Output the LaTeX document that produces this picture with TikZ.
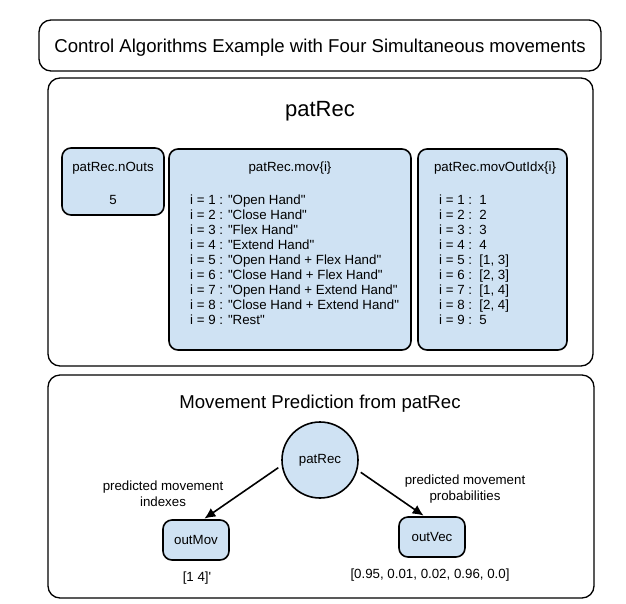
\documentclass[tikz,border=0pt]{standalone}
\usepackage{fontspec}
\setmainfont{Liberation Sans}
\usetikzlibrary{arrows.meta}
\definecolor{blue9}{HTML}{CFE2F3}
\tikzset{
  panel/.style={draw, line width=1.3pt, rounded corners=12pt},
  cell/.style={draw, line width=1.6pt, rounded corners=9pt, fill=blue9},
  smalltext/.style={font=\fontsize{13.3}{16}\selectfont, inner sep=0pt},
  bigtext/.style={font=\fontsize{18.6}{22}\selectfont, inner sep=0pt},
  flow/.style={line width=1.6pt, -{Latex[length=11pt,width=10pt]}, shorten <=4pt, shorten >=1pt}
}

\begin{document}
\begin{tikzpicture}[x=1pt,y=-1pt]
\useasboundingbox (0,0) rectangle (626,603);
\node [panel, minimum width=562, minimum height=51] (title) at (320,45.5) {};
\node [bigtext, anchor=base] (titleLabel) at (320,52.5) {Control Algorithms Example with Four Simultaneous movements};

\node [panel, minimum width=545, minimum height=288] (patRecBox) at (320.5,222) {};
\node [font=\fontsize{22}{26}\selectfont, inner sep=0pt, anchor=base] (patRecLabel) at (320,116) {patRec};
\node [cell, minimum width=102, minimum height=67] (nOuts) at (113,181.5) {};
\node [cell, minimum width=242, minimum height=201] (mov) at (290,249.5) {};
\node [cell, minimum width=149, minimum height=201] (movOutIdx) at (492.5,249.5) {};
\node [smalltext, anchor=base] (nOutsLabel) at (113,171.5) {patRec.nOuts};
\node [smalltext, anchor=base] (nOutsValue) at (113,204) {5};
\node [smalltext, anchor=base] (movLabel) at (290,171.5) {patRec.mov\{i\}};
\node [smalltext, anchor=base] (movOutIdxLabel) at (495,171.5) {patRec.movOutIdx\{i\}};
\foreach \i/\m in {1/Open Hand, 2/Close Hand, 3/Flex Hand, 4/Extend Hand, 5/Open Hand + Flex Hand, 6/Close Hand + Flex Hand, 7/Open Hand + Extend Hand, 8/Close Hand + Extend Hand, 9/Rest}
  \node [smalltext, anchor=base west] (movLine\i) at (190,189+15*\i) {i = \i{} : \textquotedbl\m\textquotedbl};
\foreach \i/\v in {1/1, 2/2, 3/3, 4/4, 5/{[1, 3]}, 6/{[2, 3]}, 7/{[1, 4]}, 8/{[2, 4]}, 9/5}
  \node [smalltext, anchor=base west] (idxLine\i) at (439,189+15*\i) {i = \i{} :~~\v};

\node [panel, minimum width=546, minimum height=223] (predBox) at (321,486.5) {};
\node [bigtext, anchor=base] (predLabel) at (320,408.5) {Movement Prediction from patRec};
\node [cell, circle, minimum size=76, font=\fontsize{13.3}{16}\selectfont] (patRec) at (320,460) {patRec};
\node [cell, minimum width=66, minimum height=40, font=\fontsize{13.3}{16}\selectfont] (outMov) at (196,540) {outMov};
\node [cell, minimum width=66, minimum height=40, font=\fontsize{13.3}{16}\selectfont] (outVec) at (432,537) {outVec};
\draw [flow] (patRec.188) -- (outMov.70);
\draw [flow] (patRec.-15) -- (outVec.110);
\node [smalltext, align=center] (movLabelIdx) at (163,493.3) {predicted movement\\indexes};
\node [smalltext, align=center] (vecLabelProb) at (465,488.6) {predicted movement\\probabilities};
\node [smalltext, anchor=base] (outMovValue) at (197,581) {[1 4]\textquotesingle};
\node [smalltext, anchor=base] (outVecValue) at (430,578) {[0.95, 0.01, 0.02, 0.96, 0.0]};
\end{tikzpicture}
\end{document}
